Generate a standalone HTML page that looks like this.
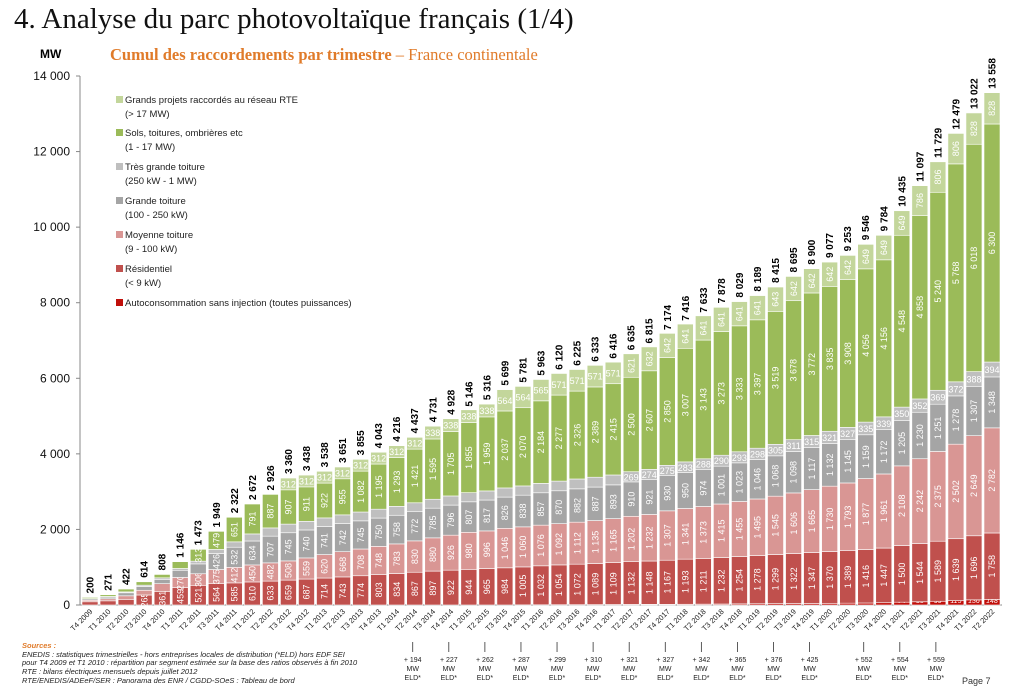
<!DOCTYPE html>
<html><head><meta charset="utf-8">
<style>
body{margin:0;width:1012px;height:686px;overflow:hidden;background:#fff;font-family:"Liberation Sans",sans-serif;position:relative}
.abs{position:absolute;white-space:nowrap}
</style></head><body>
<div class="abs" style="left:14px;top:3px;font-family:'Liberation Serif',serif;font-size:29px;color:#111">4. Analyse du parc photovoltaïque français (1/4)</div>
<div class="abs" style="left:110px;top:45px;font-family:'Liberation Serif',serif;font-size:16.5px;color:#e07b2a"><b>Cumul des raccordements par trimestre</b> – France continentale</div>
<div class="abs" style="left:40px;top:47px;font-size:12px;font-weight:bold">MW</div>
<svg id="chart" width="1012" height="686" style="position:absolute;left:0;top:0"></svg>
<div class="abs" style="left:22px;top:642px;font-size:7.5px;line-height:8.7px;font-style:italic;color:#222">
<span style="color:#e07b2a;font-weight:bold">Sources :</span><br>ENEDIS : statistiques trimestrielles - hors entreprises locales de distribution (*ELD) hors EDF SEI<br>pour T4 2009 et T1 2010 : répartition par segment estimée sur la base des ratios observés à fin 2010<br>RTE : bilans électriques mensuels depuis juillet 2012<br>RTE/ENEDIS/ADEeF/SER : Panorama des ENR / CGDD-SOeS : Tableau de bord</div>
<div class="abs" style="left:962px;top:676px;font-size:9px;color:#333">Page 7</div>
<script>
const categories=["T4 2009","T1 2010","T2 2010","T3 2010","T4 2010","T1 2011","T2 2011","T3 2011","T4 2011","T1 2012","T2 2012","T3 2012","T4 2012","T1 2013","T2 2013","T3 2013","T4 2013","T1 2014","T2 2014","T3 2014","T4 2014","T1 2015","T2 2015","T3 2015","T4 2015","T1 2016","T2 2016","T3 2016","T4 2016","T1 2017","T2 2017","T3 2017","T4 2017","T1 2018","T2 2018","T3 2018","T4 2018","T1 2019","T2 2019","T3 2019","T4 2019","T1 2020","T2 2020","T3 2020","T4 2020","T1 2021","T2 2021","T3 2021","T4 2021","T1 2022","T2 2022"];
const autoconso=[0,0,0,0,0,0,0,0,0,0,0,0,0,0,0,0,0,0,0,0,0,0,0,0,3,5,7,8,10,12,14,16,18,20,23,26,30,33,36,38,42,45,48,53,60,74,85,99,115,136,148];
const residentiel=[85,110,150,265,361,459,521,564,585,610,633,659,687,714,743,774,803,834,867,897,922,944,965,984,1005,1032,1054,1072,1089,1109,1132,1148,1167,1193,1211,1232,1254,1278,1299,1322,1347,1370,1389,1416,1447,1500,1544,1589,1639,1696,1758];
const moyenne=[40,55,93,125,203,270,306,375,412,450,482,508,559,620,668,708,748,783,830,880,926,980,996,1046,1060,1076,1092,1112,1135,1165,1202,1232,1307,1341,1373,1415,1455,1495,1545,1606,1665,1730,1793,1877,1961,2108,2242,2375,2502,2649,2782];
const grande=[35,45,80,100,115,190,261,426,532,634,707,745,740,741,742,745,750,758,772,785,796,807,817,826,838,857,870,882,887,893,910,921,930,950,974,1001,1023,1046,1068,1098,1117,1132,1145,1159,1172,1205,1230,1251,1278,1307,1348];
const tresGrande=[10,15,24,35,40,48,72,105,142,187,218,229,229,230,232,234,235,236,236,237,242,242,241,242,245,249,256,261,261,262,269,274,275,283,288,290,293,298,305,311,315,321,327,335,339,350,352,369,372,388,394];
const sols=[30,46,75,89,89,179,313,479,651,791,887,907,911,922,955,1082,1195,1293,1421,1595,1705,1855,1959,2037,2070,2184,2277,2326,2389,2415,2500,2607,2850,3007,3143,3273,3333,3397,3519,3678,3772,3835,3908,4056,4156,4548,4858,5240,5768,6018,6300];
const grandsProjets=[0,0,0,0,0,0,0,0,0,0,0,312,312,312,312,312,312,312,312,338,338,338,338,564,564,565,571,571,571,571,621,632,642,641,641,641,641,641,643,642,642,642,642,649,649,649,786,806,806,828,828];
const totals=[200,271,422,614,808,1146,1473,1949,2322,2672,2926,3360,3438,3538,3651,3855,4043,4216,4437,4731,4928,5146,5316,5699,5781,5963,6120,6225,6333,6416,6635,6815,7174,7416,7633,7878,8029,8189,8415,8695,8900,9077,9253,9546,9784,10435,11097,11729,12479,13022,13558];
const yTicks=[0,2000,4000,6000,8000,10000,12000,14000];
const eldValues=[194,227,262,287,299,310,321,327,342,365,376,425,552,554,559];
const eldIndex=[18,20,22,24,26,28,30,32,34,36,38,40,43,45,47];
const seriesNames=["Autoconsommation sans injection (toutes puissances)","Résidentiel|(< 9 kW)","Moyenne toiture|(9 - 100 kW)","Grande toiture|(100 - 250 kW)","Très grande toiture|(250 kW - 1 MW)","Sols, toitures, ombrières etc|(1 - 17 MW)","Grands projets raccordés au réseau RTE|(> 17 MW)"];
const seriesData=[autoconso,residentiel,moyenne,grande,tresGrande,sols,grandsProjets];
const colors=["#c00f0a","#c0504d","#d99694","#a5a5a5","#bfbfbf","#9bbb59","#c3d69b"];
const NS="http://www.w3.org/2000/svg";
const svg=document.getElementById("chart");
const Y0=605,Y1=76,VMAX=14000;
function y(v){return Y0-(v/VMAX)*(Y0-Y1);}
function x(i){return 90+i*18.04;}
function mk(t,a,p){const e=document.createElementNS(NS,t);for(const k in a)e.setAttribute(k,a[k]);(p||svg).appendChild(e);return e;}
function fmt(v){return v>=1000?Math.floor(v/1000)+" "+String(v%1000).padStart(3,"0"):String(v);}
const ax=mk("line",{x1:80,y1:Y0,x2:1002,y2:Y0,stroke:"#888","stroke-width":1});


const ay=mk("line",{x1:80,y1:Y1,x2:80,y2:Y0,stroke:"#888","stroke-width":1});


yTicks.forEach(v=>{
  mk("line",{x1:76,y1:y(v),x2:80,y2:y(v),stroke:"#888"});
  const t=mk("text",{x:70,y:y(v)+4,"text-anchor":"end","font-size":12,fill:"#111"});
  t.textContent=fmt(v);
  
  
});
categories.forEach((c,i)=>{
  let cum=0;const cx=x(i);
  seriesData.forEach((s,k)=>{
    const v=s[i];if(v<=0)return;
    const top=y(cum+v),bot=y(cum);
    const r=mk("rect",{x:cx-8,y:top,width:16,height:bot-top,fill:colors[k],stroke:"#fff","stroke-width":0.6});
    
    
    const h=bot-top;
    if(k==0&&v>=20){
      const t=mk("text",{x:cx,y:bot-2,"text-anchor":"middle","font-size":7,"font-style":"italic",fill:"#fff"});t.textContent=v;
      
      
    } else if(k>0&&h>=10){
      const lbl=fmt(v);
      const horiz=(k==4||k==6)&&h<22;
      let t;
      if(horiz){t=mk("text",{x:cx,y:(top+bot)/2+3.5,"text-anchor":"middle","font-size":9,fill:"#fff"});}
      else{const my=(top+bot)/2;t=mk("text",{x:cx,y:my,"text-anchor":"middle","font-size":9,fill:"#fff",transform:`rotate(-90 ${cx} ${my}) translate(0 3.2)`});}
      if(lbl.length*4.6<h+4||horiz){t.textContent=lbl;}
      
      
    }
    cum+=v;
  });
  const ty=y(totals[i])-4;
  const tt=mk("text",{x:cx,y:ty,"font-size":10,"font-weight":"bold",fill:"#000",transform:`rotate(-90 ${cx} ${ty}) translate(0 3.5)`});
  tt.textContent=fmt(totals[i]);
  
  
  const lx=cx+3,ly=612;
  const xl=mk("text",{x:lx,y:ly,"text-anchor":"end","font-size":7.5,fill:"#222",transform:`rotate(-45 ${lx} ${ly})`});
  xl.textContent=c;
  
  
});
eldValues.forEach((v,j)=>{
  const cx=x(eldIndex[j])-2;
  mk("line",{x1:cx,y1:642,x2:cx,y2:652,stroke:"#333","stroke-width":0.8});
  ["+ "+v,"MW","ELD*"].forEach((s,l)=>{
    const t=mk("text",{x:cx,y:662+l*9,"text-anchor":"middle","font-size":7,fill:"#222"});t.textContent=s;
    
    
  });
});
const legY=[100,133,167,201,235,269,303];
for(let n=0;n<7;n++){
  const k=6-n;const yy=legY[n];
  const r=mk("rect",{x:116,y:yy-4,width:7,height:7,fill:colors[k]});
  
  
  seriesNames[k].split("|").forEach((s,l)=>{
    const t=mk("text",{x:125,y:yy+3+l*14,"font-size":9.5,fill:"#222"});t.textContent=s;
    
    
  });
}
</script>
</body></html>
